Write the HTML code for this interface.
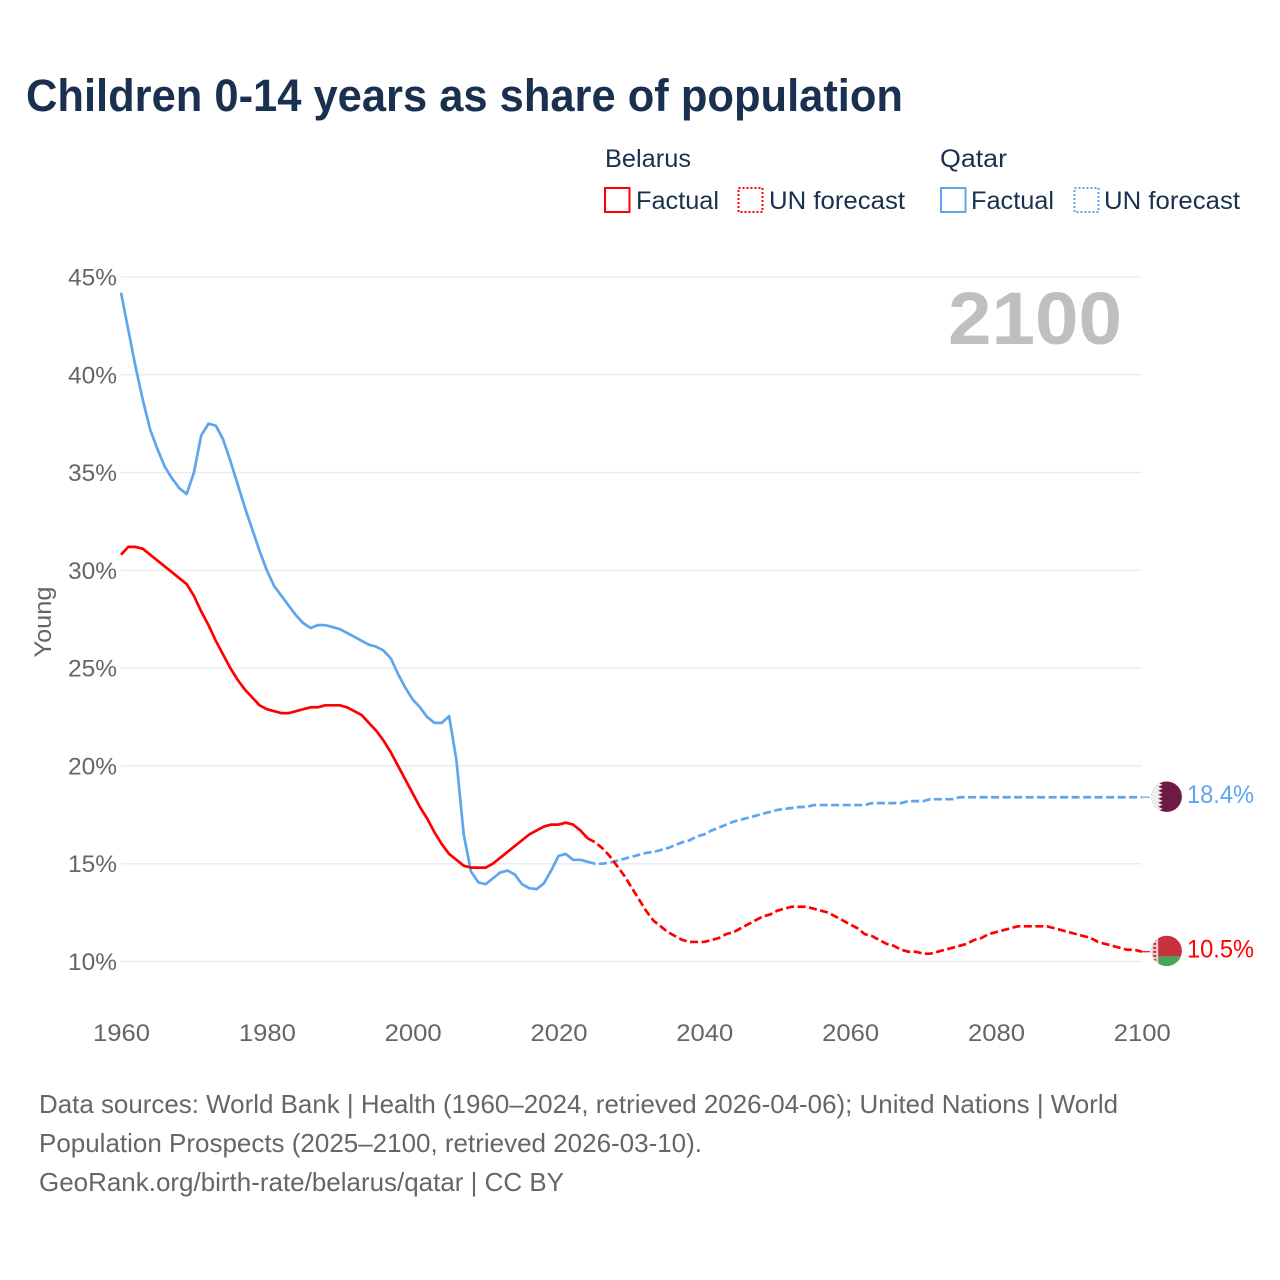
<!DOCTYPE html>
<html lang="en">
<head>
<meta charset="utf-8">
<title>Children 0-14 years as share of population</title>
<style>
html,body{margin:0;padding:0;background:#fff;}
svg{display:block;font-family:"Liberation Sans",sans-serif;}
</style>
</head>
<body>
<svg id="chart" xmlns="http://www.w3.org/2000/svg" width="1280" height="1280" viewBox="0 0 1280 1280">
  <defs>
    <clipPath id="flag-clip-a"><circle cx="0" cy="0" r="15.2"/></clipPath>
  </defs>
  <rect x="0" y="0" width="1280" height="1280" fill="#ffffff"/>
  <text x="26" y="111" font-size="45" font-weight="700" fill="#1a3050" textLength="877" lengthAdjust="spacingAndGlyphs">Children 0-14 years as share of population</text>

  <g font-size="25" fill="#1a3050">
    <text x="605" y="167" textLength="86" lengthAdjust="spacingAndGlyphs">Belarus</text>
    <text x="940" y="167" textLength="67" lengthAdjust="spacingAndGlyphs">Qatar</text>
    <rect x="605" y="188" width="24.5" height="24" fill="none" stroke="#ff0000" stroke-width="2"/>
    <text x="636" y="209" textLength="83" lengthAdjust="spacingAndGlyphs">Factual</text>
    <rect x="738.5" y="188" width="24" height="24" fill="none" stroke="#ff0000" stroke-width="2" stroke-dasharray="2 2"/>
    <text x="769" y="209" textLength="136" lengthAdjust="spacingAndGlyphs">UN forecast</text>
    <rect x="941" y="188" width="24.5" height="24" fill="none" stroke="#5ea5ee" stroke-width="2"/>
    <text x="971" y="209" textLength="83" lengthAdjust="spacingAndGlyphs">Factual</text>
    <rect x="1074.5" y="188" width="24" height="24" fill="none" stroke="#5ea5ee" stroke-width="2" stroke-dasharray="2 2"/>
    <text x="1104" y="209" textLength="136" lengthAdjust="spacingAndGlyphs">UN forecast</text>
  </g>

  <g id="grid"></g>
  <g id="y-ticks"></g>
  <g id="x-ticks"></g>
  <text x="0" y="0" transform="translate(51,622) rotate(-90)" text-anchor="middle" font-size="24" fill="#666666" textLength="71" lengthAdjust="spacingAndGlyphs">Young</text>
  <text x="948" y="344" font-size="74" font-weight="700" fill="#bfbfbf" textLength="174" lengthAdjust="spacingAndGlyphs">2100</text>

  <g id="series"></g>

  <g id="flag-qatar">
    <g clip-path="url(#flag-clip-a)">
      <rect x="-16" y="-16" width="32" height="32" fill="#6e1a44"/>
      <polygon fill="#eeeeee" points="-16,-16 -4,-16 -8.5,-14 -4,-12 -8.5,-10 -4,-8 -8.5,-6 -4,-4 -8.5,-2 -4,0 -8.5,2 -4,4 -8.5,6 -4,8 -8.5,10 -4,12 -8.5,14 -4,16 -16,16"/>
    </g>
  </g>
  <g id="flag-belarus">
    <g clip-path="url(#flag-clip-a)">
      <rect x="-16" y="-16" width="32" height="21.5" fill="#c8313e"/>
      <rect x="-16" y="5.5" width="32" height="10.5" fill="#4aa657"/>
      <rect x="-16" y="-16" width="7.5" height="32" fill="#f0d0d0"/>
      <path d="M-12,-16V16" stroke="#c8313e" stroke-width="3" stroke-dasharray="2 2" fill="none"/>
    </g>
  </g>
  <text id="end-label-qatar" x="1187" y="803" font-size="25" fill="#5ea5ee" textLength="67" lengthAdjust="spacingAndGlyphs"></text>
  <text id="end-label-belarus" x="1187" y="958" font-size="25" fill="#ff0000" textLength="67" lengthAdjust="spacingAndGlyphs"></text>

  <g font-size="26" fill="#666666">
    <text x="39" y="1113" textLength="1079" lengthAdjust="spacingAndGlyphs">Data sources: World Bank | Health (1960–2024, retrieved 2026-04-06); United Nations | World</text>
    <text x="39" y="1152" textLength="663" lengthAdjust="spacingAndGlyphs">Population Prospects (2025–2100, retrieved 2026-03-10).</text>
    <text x="39" y="1191" textLength="525" lengthAdjust="spacingAndGlyphs">GeoRank.org/birth-rate/belarus/qatar | CC BY</text>
  </g>
</svg>
<script>
const yTickValues = [10, 15, 20, 25, 30, 35, 40, 45];
const xTickValues = [1960, 1980, 2000, 2020, 2040, 2060, 2080, 2100];
const factualStartYear = 1960;
const forecastStartYear = 2024;
const belarusFactual = [
  30.8,31.2,31.2,31.1,30.8,30.5,30.2,29.9,29.6,29.3,
  28.7,27.9,27.2,26.4,25.7,25.0,24.4,23.9,23.5,23.1,
  22.9,22.8,22.7,22.7,22.8,22.9,23.0,23.0,23.1,23.1,
  23.1,23.0,22.8,22.6,22.2,21.8,21.3,20.7,20.0,19.3,
  18.6,17.9,17.3,16.6,16.0,15.5,15.2,14.9,14.8,14.8,
  14.8,15.0,15.3,15.6,15.9,16.2,16.5,16.7,16.9,17.0,
  17.0,17.1,17.0,16.7,16.3
];
const belarusForecast = [
  16.3,16.1,15.8,15.4,14.9,14.4,13.8,13.2,12.6,12.1,
  11.8,11.5,11.3,11.1,11.0,11.0,11.0,11.1,11.2,11.4,
  11.5,11.7,11.9,12.1,12.3,12.4,12.6,12.7,12.8,12.8,
  12.8,12.7,12.6,12.5,12.3,12.1,11.9,11.7,11.4,11.3,
  11.1,10.9,10.8,10.6,10.5,10.5,10.4,10.4,10.5,10.6,
  10.7,10.8,10.9,11.1,11.2,11.4,11.5,11.6,11.7,11.8,
  11.8,11.8,11.8,11.8,11.7,11.6,11.5,11.4,11.3,11.2,
  11.0,10.9,10.8,10.7,10.6,10.6,10.5
];
const qatarFactual = [
  44.2,42.3,40.4,38.7,37.2,36.2,35.3,34.7,34.2,33.9,
  35.0,36.9,37.5,37.4,36.7,35.6,34.4,33.2,32.1,31.0,
  30.0,29.2,28.7,28.2,27.7,27.3,27.05,27.2,27.2,27.1,
  27.0,26.8,26.6,26.4,26.2,26.1,25.9,25.5,24.7,24.0,
  23.4,23.0,22.5,22.2,22.2,22.55,20.3,16.5,14.6,14.05,
  13.95,14.25,14.55,14.65,14.45,13.95,13.75,13.7,14.0,14.65,
  15.4,15.5,15.2,15.2,15.1
];
const qatarForecast = [
  15.1,15.0,15.0,15.05,15.15,15.25,15.35,15.45,15.55,15.6,
  15.7,15.8,15.95,16.1,16.2,16.4,16.5,16.7,16.85,17.0,
  17.15,17.25,17.35,17.45,17.55,17.65,17.75,17.8,17.85,17.9,
  17.9,18.0,18.0,18.0,18.0,18.0,18.0,18.0,18.0,18.1,
  18.1,18.1,18.1,18.1,18.2,18.2,18.2,18.3,18.3,18.3,
  18.3,18.4,18.4,18.4,18.4,18.4,18.4,18.4,18.4,18.4,
  18.4,18.4,18.4,18.4,18.4,18.4,18.4,18.4,18.4,18.4,
  18.4,18.4,18.4,18.4,18.4,18.4,18.4
];

const SVG_NS = 'http://www.w3.org/2000/svg';
function xScale(year){ return 121 + (year - 1960) * (1141.8 - 121) / 140; }
function yScale(value){ return 961.5 - (value - 10) * (961.5 - 277) / 35; }
const flagX = 1166.7;
const connectorEndX = 1150;

const grid = document.getElementById('grid');
const yTicks = document.getElementById('y-ticks');
const xTicks = document.getElementById('x-ticks');

yTickValues.forEach(function(v){
  const line = document.createElementNS(SVG_NS, 'line');
  
  
  line.setAttribute('x1', xScale(1960));
  line.setAttribute('x2', xScale(2100));
  line.setAttribute('y1', yScale(v));
  line.setAttribute('y2', yScale(v));
  line.setAttribute('stroke', '#eaeaea');
  line.setAttribute('stroke-width', '1.3');
  grid.appendChild(line);

  const label = document.createElementNS(SVG_NS, 'text');
  
  
  label.setAttribute('x', 117);
  label.setAttribute('y', yScale(v) + 8.5);
  label.setAttribute('text-anchor', 'end');
  label.setAttribute('font-size', '24');
  label.setAttribute('fill', '#666666');
  label.setAttribute('textLength', '49');
  label.setAttribute('lengthAdjust', 'spacingAndGlyphs');
  label.textContent = v + '%';
  yTicks.appendChild(label);
});

xTickValues.forEach(function(y){
  const label = document.createElementNS(SVG_NS, 'text');
  
  
  label.setAttribute('x', xScale(y) + 0.5);
  label.setAttribute('y', 1041);
  label.setAttribute('text-anchor', 'middle');
  label.setAttribute('font-size', '24');
  label.setAttribute('fill', '#666666');
  label.setAttribute('textLength', '57');
  label.setAttribute('lengthAdjust', 'spacingAndGlyphs');
  label.textContent = y;
  xTicks.appendChild(label);
});

function pathFrom(values, startYear){
  let d = '';
  values.forEach(function(v, i){
    d += (i === 0 ? 'M' : 'L') + xScale(startYear + i).toFixed(2) + ',' + yScale(v).toFixed(2);
  });
  return d;
}

const seriesGroup = document.getElementById('series');

const qatarFactualPath = document.createElementNS(SVG_NS, 'path');


qatarFactualPath.setAttribute('d', pathFrom(qatarFactual, factualStartYear));
qatarFactualPath.setAttribute('fill', 'none');
qatarFactualPath.setAttribute('stroke', '#5ea5ee');
qatarFactualPath.setAttribute('stroke-width', '2.7');
qatarFactualPath.setAttribute('stroke-linejoin', 'round');
seriesGroup.appendChild(qatarFactualPath);

const belarusFactualPath = document.createElementNS(SVG_NS, 'path');


belarusFactualPath.setAttribute('d', pathFrom(belarusFactual, factualStartYear));
belarusFactualPath.setAttribute('fill', 'none');
belarusFactualPath.setAttribute('stroke', '#ff0000');
belarusFactualPath.setAttribute('stroke-width', '2.7');
belarusFactualPath.setAttribute('stroke-linejoin', 'round');
seriesGroup.appendChild(belarusFactualPath);

const qatarForecastPath = document.createElementNS(SVG_NS, 'path');


qatarForecastPath.setAttribute('d', pathFrom(qatarForecast, forecastStartYear));
qatarForecastPath.setAttribute('fill', 'none');
qatarForecastPath.setAttribute('stroke', '#5ea5ee');
qatarForecastPath.setAttribute('stroke-width', '2.7');
qatarForecastPath.setAttribute('stroke-dasharray', '8 3.5');
seriesGroup.appendChild(qatarForecastPath);

const belarusForecastPath = document.createElementNS(SVG_NS, 'path');


belarusForecastPath.setAttribute('d', pathFrom(belarusForecast, forecastStartYear));
belarusForecastPath.setAttribute('fill', 'none');
belarusForecastPath.setAttribute('stroke', '#ff0000');
belarusForecastPath.setAttribute('stroke-width', '2.7');
belarusForecastPath.setAttribute('stroke-dasharray', '8 3.5');
seriesGroup.appendChild(belarusForecastPath);

const lastQatar = qatarForecast[qatarForecast.length - 1];
const lastBelarus = belarusForecast[belarusForecast.length - 1];

const qatarConnector = document.createElementNS(SVG_NS, 'line');


qatarConnector.setAttribute('x1', xScale(2100));
qatarConnector.setAttribute('x2', connectorEndX);
qatarConnector.setAttribute('y1', yScale(lastQatar));
qatarConnector.setAttribute('y2', yScale(lastQatar));
qatarConnector.setAttribute('stroke', '#5ea5ee');
qatarConnector.setAttribute('stroke-width', '1.2');
seriesGroup.appendChild(qatarConnector);

const belarusConnector = document.createElementNS(SVG_NS, 'line');


belarusConnector.setAttribute('x1', xScale(2100));
belarusConnector.setAttribute('x2', connectorEndX);
belarusConnector.setAttribute('y1', yScale(lastBelarus));
belarusConnector.setAttribute('y2', yScale(lastBelarus));
belarusConnector.setAttribute('stroke', '#ff0000');
belarusConnector.setAttribute('stroke-width', '1.2');
seriesGroup.appendChild(belarusConnector);

document.getElementById('flag-qatar').setAttribute('transform', 'translate(' + flagX + ',' + (yScale(lastQatar) - 0.5) + ')');
document.getElementById('flag-belarus').setAttribute('transform', 'translate(' + flagX + ',' + (yScale(lastBelarus) - 0.8) + ')');
const qatarEndLabel = document.getElementById('end-label-qatar');
qatarEndLabel.textContent = lastQatar.toFixed(1) + '%';
qatarEndLabel.setAttribute('y', yScale(lastQatar) + 6);
const belarusEndLabel = document.getElementById('end-label-belarus');
belarusEndLabel.textContent = lastBelarus.toFixed(1) + '%';
belarusEndLabel.setAttribute('y', yScale(lastBelarus) + 6);
</script>
</body>
</html>
